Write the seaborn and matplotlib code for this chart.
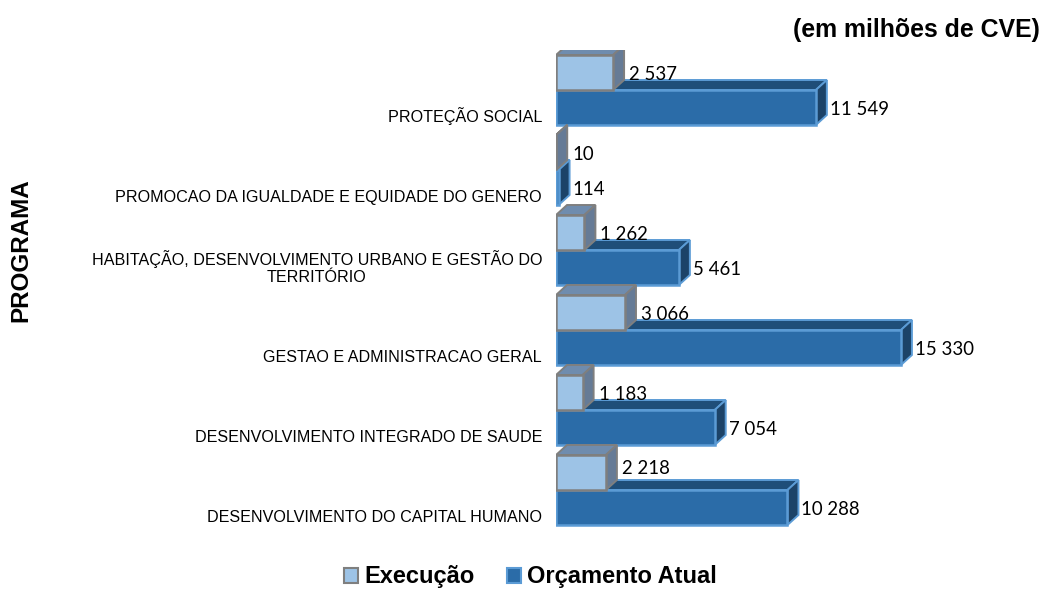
import pandas as pd
import seaborn as sns
import matplotlib.pyplot as plt
from matplotlib.patches import Polygon
from matplotlib.transforms import ScaledTranslation

# dados
programas = [
    'PROTEÇÃO SOCIAL',
    'PROMOCAO DA IGUALDADE E EQUIDADE DO GENERO',
    'HABITAÇÃO, DESENVOLVIMENTO URBANO E GESTÃO DO\nTERRITÓRIO',
    'GESTAO E ADMINISTRACAO GERAL',
    'DESENVOLVIMENTO INTEGRADO DE SAUDE',
    'DESENVOLVIMENTO DO CAPITAL HUMANO',
]
execucao = [2537, 10, 1262, 3066, 1183, 2218]
orcamento = [11549, 114, 5461, 15330, 7054, 10288]

df = pd.DataFrame({'Programa': programas * 2,
                   'Serie': ['Execução'] * 6 + ['Orçamento Atual'] * 6,
                   'Valor': execucao + orcamento})

cores = {'Execução': '#9DC3E6', 'Orçamento Atual': '#2B6CA8'}
bordas = {'Execução': '#7F7F7F', 'Orçamento Atual': '#5B9BD5'}
topos = {'Execução': '#6F8CAE', 'Orçamento Atual': '#1F4E79'}
lados = {'Execução': '#667B96', 'Orçamento Atual': '#1C4368'}

sns.set_theme(style='white')
plt.rcParams['font.family'] = ['Liberation Sans', 'DejaVu Sans']

W, H = 1046, 589
fig = plt.figure(figsize=(W / 100, H / 100), dpi=100)
# eixo em pixels: x=0 em 556, cada linha tem ~80 px
ax = fig.add_axes([556 / W, 1 - 530 / H, 444 / W, 480 / H])

sns.barplot(data=df, y='Programa', x='Valor', hue='Serie', hue_order=list(cores),
            palette=cores, width=0.875, gap=0, saturation=1, ax=ax)
ax.set_xlim(0, 444 / 0.0225)
ax.set_ylim(5.5, -0.5)
sns.despine(ax=ax, left=True, bottom=True)
ax.set_xlabel('')
ax.set_ylabel('')
ax.set_xticks([])
ax.tick_params(axis='y', length=0, pad=10)

# profundidade do efeito 3D, em unidades dos dados
dx = 11 / 0.0225
dy = 10 / 80

for n, (serie, cont) in enumerate(zip(cores, ax.containers)):
    z = 2 + n * -0.5 + 1
    folga = (5 if serie == 'Execução' else 3) / 0.0225
    for p, valor in zip(cont.patches, df[df['Serie'] == serie]['Valor']):
        x0, y0 = p.get_x(), p.get_y()
        w, h = p.get_width(), p.get_height()
        y_top, y_bot = min(y0, y0 + h), max(y0, y0 + h)
        p.set_edgecolor(bordas[serie])
        p.set_linewidth(1.8)
        p.set_zorder(z + 0.2)
        ax.add_patch(Polygon([(x0, y_top), (x0 + dx, y_top - dy), (x0 + w + dx, y_top - dy), (x0 + w, y_top)],
                             fc=topos[serie], ec=bordas[serie], lw=1.4, zorder=z))
        ax.add_patch(Polygon([(x0 + w, y_top), (x0 + w + dx, y_top - dy), (x0 + w + dx, y_bot - dy), (x0 + w, y_bot)],
                             fc=lados[serie], ec=bordas[serie], lw=1.4, zorder=z + 0.1))
        # o rotulo 2 218 esta um pouco mais acima no original
        ajuste = -0.075 if valor == 2218 else 0
        ax.text(x0 + w + dx + folga, (y_top + y_bot) / 2 + 0.03 + ajuste, f'{valor:,}'.replace(',', ' '),
                ha='left', va='center', fontsize=13.4, family=['Lato', 'DejaVu Sans'],
                color='black', zorder=6)

# rotulos ficam abaixo do centro da linha
desloca = ScaledTranslation(0, -35 / 100, fig.dpi_scale_trans)
for t in ax.get_yticklabels():
    t.set_fontsize(11.6)
    t.set_color('black')
    t.set_verticalalignment('bottom')
    t.set_multialignment('center')
    t.set_transform(t.get_transform() + desloca)

sns.move_legend(ax, 'lower center', bbox_to_anchor=(0.507, -0.019), bbox_transform=fig.transFigure,
                ncol=2, frameon=False, title=None, handlelength=0.6, handleheight=0.6,
                handletextpad=0.25, columnspacing=1.35, borderpad=0,
                prop={'weight': 'bold', 'size': 17})
leg = ax.get_legend()
for h, serie in zip(leg.legend_handles, cores):
    h.set_edgecolor(bordas[serie])
    h.set_linewidth(1.5)
for t in leg.get_texts():
    t.set_color('black')

fig.text(1040 / W, 1 - 30 / H, '(em milhões de CVE)', ha='right', va='center',
         fontsize=17.9, fontweight='bold', color='black')
fig.text(21 / W, 1 - 250 / H, 'PROGRAMA', rotation=90, ha='center', va='center',
         fontsize=17.5, fontweight='bold', color='black')

fig.savefig('out.png', dpi=100)
